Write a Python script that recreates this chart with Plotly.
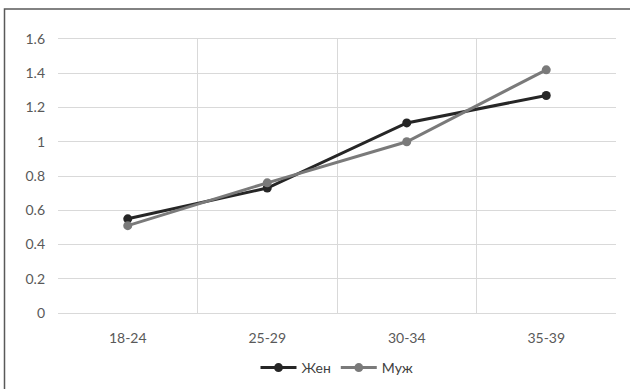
import plotly.graph_objects as go

# Age groups and values for each series
age_groups = ["18-24", "25-29", "30-34", "35-39"]
women = [0.55, 0.73, 1.11, 1.27]
men = [0.51, 0.76, 1.00, 1.42]

FONT = "Lato, Open Sans, sans-serif"
TICK_COLOR = "#595959"
GRID = "#d9d9d9"

fig = go.Figure()
fig.add_trace(go.Scatter(
    x=age_groups, y=women, name="Жен", mode="lines+markers",
    line=dict(color="#262626", width=3),
    marker=dict(color="#262626", size=9),
))
fig.add_trace(go.Scatter(
    x=age_groups, y=men, name="Муж", mode="lines+markers",
    line=dict(color="#7a7a7a", width=3),
    marker=dict(color="#7a7a7a", size=9),
))

W, H = 630, 389
L, R, T, B = 58, 14, 39, 76
pw, ph = W - L - R, H - T - B

def px_x(p):
    return (p - L) / pw

def px_y(p):
    return (H - B - p) / ph

# Outer chart frame
fig.add_shape(type="rect", xref="paper", yref="paper",
              x0=px_x(4.5), x1=px_x(640), y0=px_y(9), y1=px_y(400),
              line=dict(color="#595959", width=1.5), fillcolor="rgba(0,0,0,0)",
              layer="below")

fig.update_layout(
    width=W, height=H,
    margin=dict(l=L, r=R, t=T, b=B, autoexpand=False),
    paper_bgcolor="white", plot_bgcolor="white",
    font=dict(family=FONT, size=14, color=TICK_COLOR),
    showlegend=True,
    legend=dict(orientation="h", x=0.5, xanchor="center", y=px_y(368), yanchor="middle",
                font=dict(size=14, color="#404040"), itemwidth=36,
                bgcolor="rgba(0,0,0,0)"),
    xaxis=dict(type="category", tickson="boundaries", showgrid=True, gridcolor=GRID,
               gridwidth=1, ticks="", showline=True, linecolor=GRID, mirror=True,
               range=[-0.5, 3.5], zeroline=False, ticklabelstandoff=12),
    yaxis=dict(range=[0, 1.6], dtick=0.2, showgrid=True, gridcolor=GRID, gridwidth=1,
               ticks="", showline=False, zeroline=False, ticklabelstandoff=12),
)

fig.write_html("out.html")
